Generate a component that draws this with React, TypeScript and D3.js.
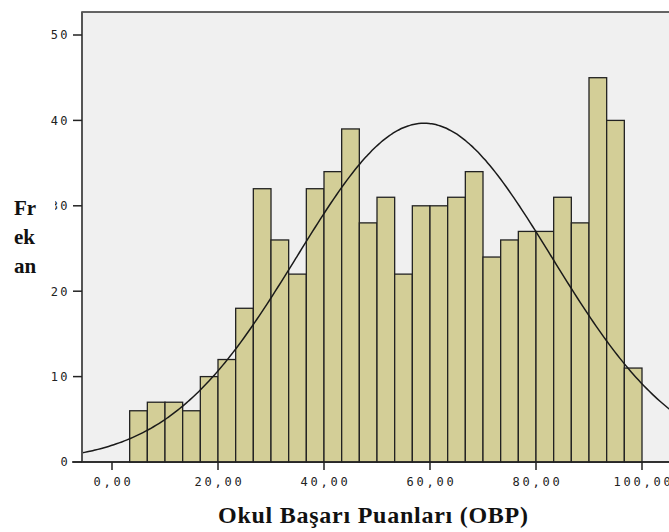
import { useEffect, useRef } from 'react';
import * as d3 from 'd3';

// histogram counts, bins of width 10/3 from 10/3 to 100
const binWidth = 10 / 3;
const binStart = 10 / 3;
const counts = [6, 7, 7, 6, 10, 12, 18, 32, 26, 22, 32, 34, 39, 28, 31, 22, 30, 30, 31, 34, 24, 26, 27, 27, 31, 28, 45, 40, 11];
const xTicks = [0, 20, 40, 60, 80, 100];
const yTicks = [0, 10, 20, 30, 40, 50];
const yLabelLines = ['Fr', 'ek', 'an'];
const curveMean = 58.9;
const curveSd = 24.0;

const W = 669;
const H = 532;

const App = () => {
  const svgRef = useRef<SVGSVGElement>(null);

  useEffect(() => {
    const svg = d3.select(svgRef.current);
    svg.selectAll('*').remove();

    const left = 82;
    const top = 12;
    const bottom = 462;

    const x = d3.scaleLinear().domain([0, 100]).range([112, 642]);
    const y = d3.scaleLinear().domain([0, 50]).range([bottom, 35]);

    // plot background + frame
    svg.append('rect')
      .attr('x', left).attr('y', top)
      .attr('width', W - left + 10).attr('height', bottom - top)
      .attr('fill', '#f0f0f0')
      .attr('stroke', '#333').attr('stroke-width', 1.5);

    const bins = counts.map((c, i) => ({ x0: binStart + i * binWidth, x1: binStart + (i + 1) * binWidth, c }));

    svg.append('g')
      .selectAll('rect')
      .data(bins)
      .enter()
      .append('rect')
      .attr('x', d => x(d.x0))
      .attr('y', d => y(d.c))
      .attr('width', d => x(d.x1) - x(d.x0))
      .attr('height', d => y(0) - y(d.c))
      .attr('fill', '#d3ce97')
      .attr('stroke', '#222')
      .attr('stroke-width', 1.3);

    // normal curve
    const total = d3.sum(counts);
    const dens = (v: number) =>
      (total * binWidth) / (curveSd * Math.sqrt(2 * Math.PI)) *
      Math.exp(-0.5 * ((v - curveMean) / curveSd) ** 2);
    const xs = d3.range(x.invert(left), x.invert(W + 2), 0.5);
    const line = d3.line<number>().x(v => x(v)).y(v => y(dens(v))).curve(d3.curveBasis);
    svg.append('path')
      .attr('d', line(xs))
      .attr('fill', 'none')
      .attr('stroke', '#1a1a1a')
      .attr('stroke-width', 1.5);

    // axes
    svg.append('line')
      .attr('x1', left).attr('x2', left)
      .attr('y1', top).attr('y2', bottom)
      .attr('stroke', '#555').attr('stroke-width', 2);
    svg.append('line')
      .attr('x1', 72).attr('x2', W)
      .attr('y1', bottom).attr('y2', bottom)
      .attr('stroke', '#222').attr('stroke-width', 1.5);

    const tickFont = "'DejaVu Sans Mono', monospace";

    const yg = svg.append('g');
    yTicks.forEach(t => {
      yg.append('line')
        .attr('x1', 73).attr('x2', left)
        .attr('y1', y(t)).attr('y2', y(t))
        .attr('stroke', '#222').attr('stroke-width', 1.5);
      yg.append('text')
        .attr('x', 70).attr('y', y(t))
        .attr('dy', '0.36em')
        .attr('text-anchor', 'end')
        .attr('font-family', tickFont)
        .attr('font-size', 12)
        .attr('letter-spacing', 2.4)
        .attr('fill', '#222')
        .text(t);
    });

    const xg = svg.append('g');
    xTicks.forEach(t => {
      xg.append('line')
        .attr('x1', x(t)).attr('x2', x(t))
        .attr('y1', bottom).attr('y2', bottom + 8)
        .attr('stroke', '#222').attr('stroke-width', 1.5);
      xg.append('text')
        .attr('x', x(t) + 1.5).attr('y', 486)
        .attr('text-anchor', 'middle')
        .attr('font-family', tickFont)
        .attr('font-size', 12)
        .attr('letter-spacing', 2.8)
        .attr('fill', '#222')
        .text(d3.format('.2f')(t).replace('.', ','));
    });

    // y label box (covers part of tick labels)
    svg.append('rect')
      .attr('x', 8).attr('y', 192)
      .attr('width', 47).attr('height', 88)
      .attr('fill', '#fff');
    yLabelLines.forEach((s, i) => {
      svg.append('text')
        .attr('x', 14).attr('y', 215 + i * 29)
        .attr('font-family', "'Liberation Serif', serif")
        .attr('font-weight', 'bold')
        .attr('font-size', 21)
        .attr('fill', '#111')
        .text(s);
    });

    // x title
    svg.append('text')
      .attr('x', 218).attr('y', 523)
      .attr('textLength', 310)
      .attr('lengthAdjust', 'spacing')
      .attr('font-family', "'Liberation Serif', serif")
      .attr('font-weight', 'bold')
      .attr('font-size', 24)
      .attr('fill', '#111')
      .text('Okul Başarı Puanları (OBP)');
  }, []);

  return (
    <svg
      ref={svgRef}
      width={W}
      height={H}
      style={{ position: 'fixed', left: 0, top: 0, background: '#fff' }}
    />
  );
};

export default App;
